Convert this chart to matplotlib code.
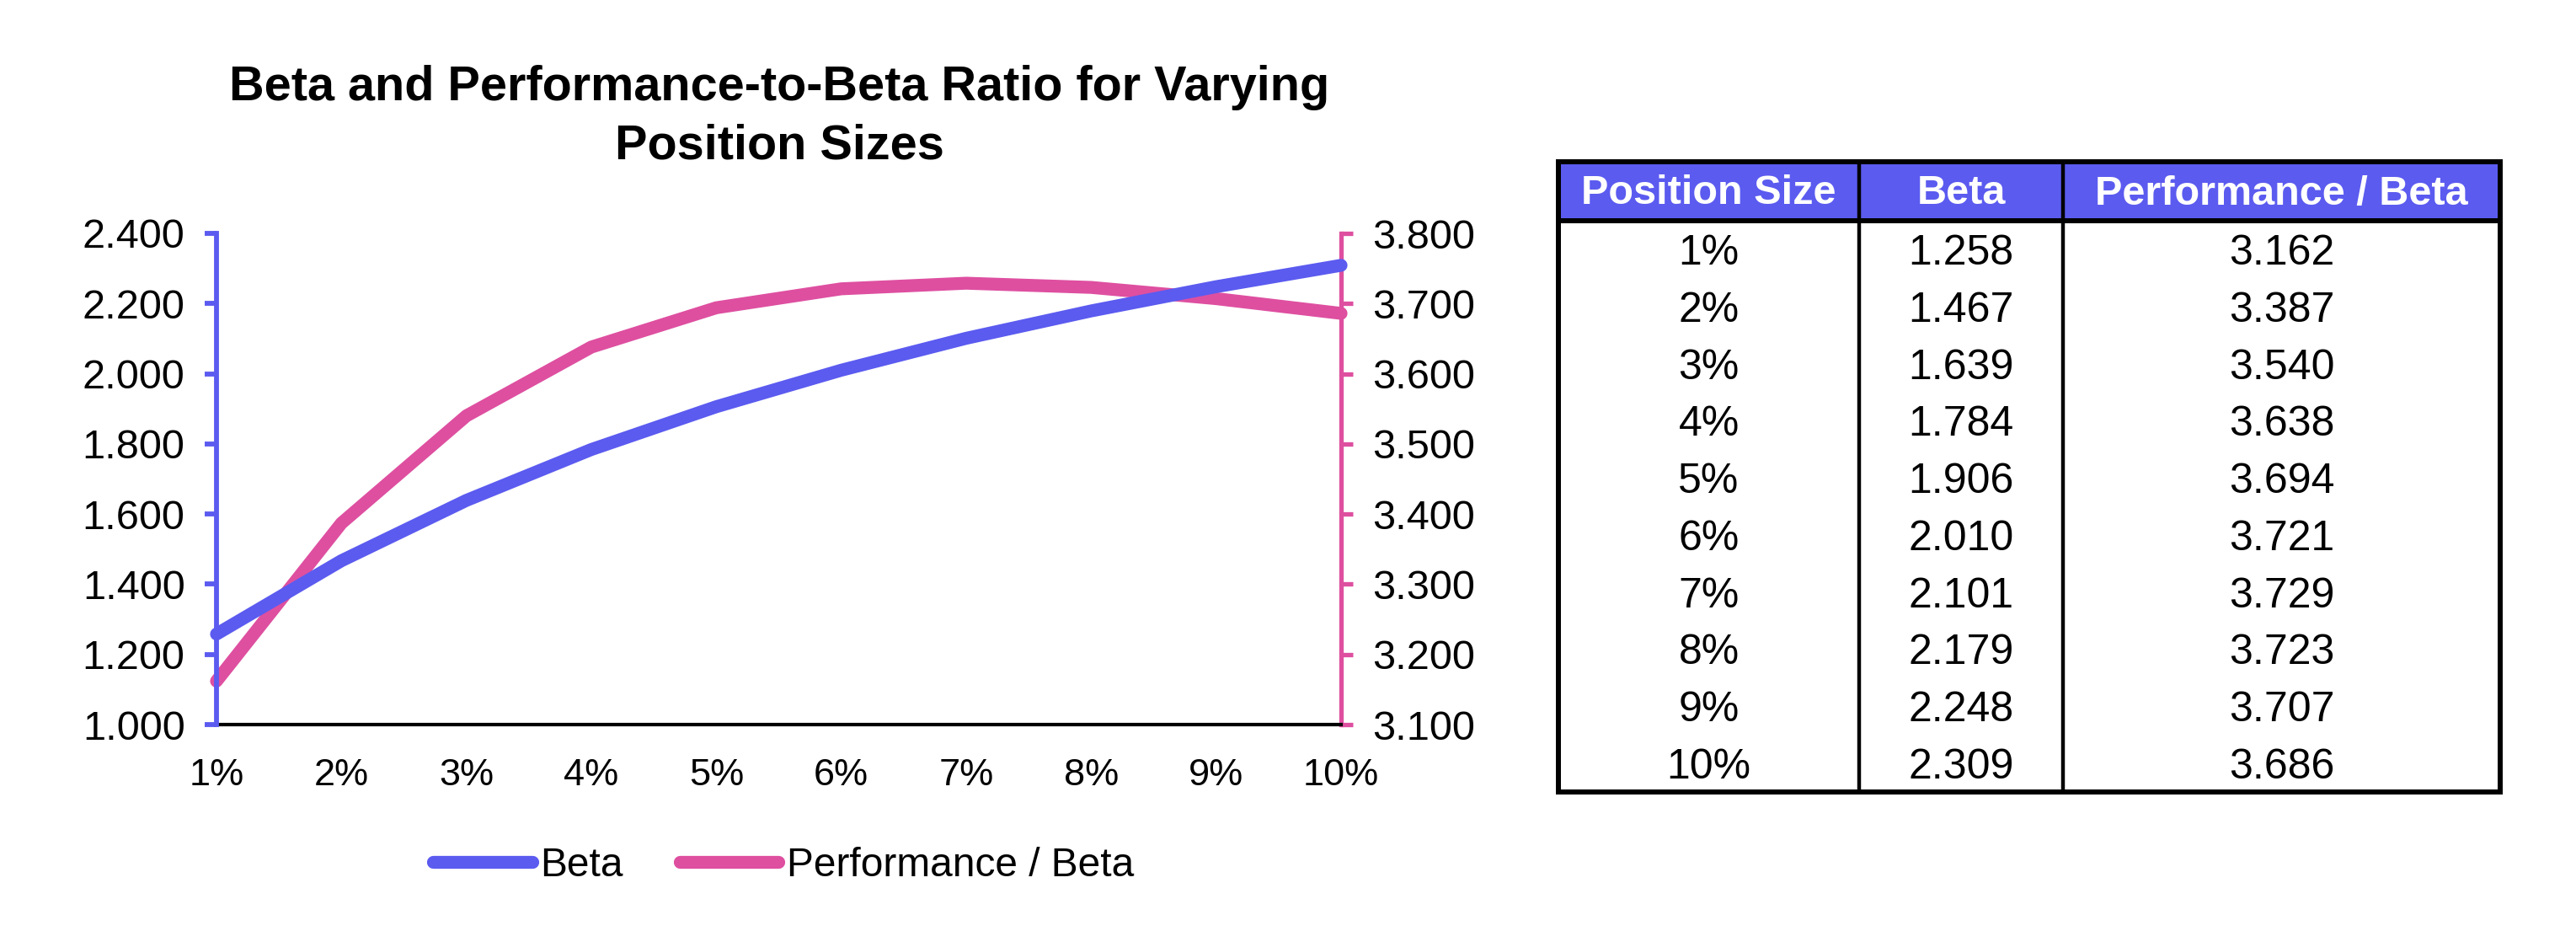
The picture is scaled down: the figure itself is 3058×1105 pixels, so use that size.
"""Beta and performance-to-beta ratio across position sizes, with value table."""

import matplotlib
matplotlib.use("Agg")
import matplotlib.pyplot as plt
from matplotlib.patches import Rectangle

plt.rcParams["font.family"] = ["Liberation Sans", "DejaVu Sans"]

position_sizes = ["1%", "2%", "3%", "4%", "5%", "6%", "7%", "8%", "9%", "10%"]
beta = [1.258, 1.467, 1.639, 1.784, 1.906, 2.010, 2.101, 2.179, 2.248, 2.309]
perf_to_beta = [3.162, 3.387, 3.540, 3.638, 3.694, 3.721, 3.729, 3.723, 3.707, 3.686]

left_ticks = [1.0, 1.2, 1.4, 1.6, 1.8, 2.0, 2.2, 2.4]
right_ticks = [3.1, 3.2, 3.3, 3.4, 3.5, 3.6, 3.7, 3.8]
table_header = ["Position Size", "Beta", "Performance / Beta"]

BLUE = "#5B5BF0"
PINK = "#DE4FA0"
W, H = 3058, 1105

fig = plt.figure(figsize=(W / 100, H / 100), dpi=100)

# main chart
ax = fig.add_axes([257 / W, 1 - 860 / H, (1592 - 257) / W, (860 - 277) / H])
ax2 = ax.twinx()
x = list(range(len(position_sizes)))

l1, = ax.plot(x, beta, color=BLUE, lw=11, solid_capstyle="round",
              solid_joinstyle="round", clip_on=False, zorder=3, label="Beta")
l2, = ax2.plot(x, perf_to_beta, color=PINK, lw=11, solid_capstyle="round",
               solid_joinstyle="round", clip_on=False, zorder=3,
               label="Performance / Beta")

ax.set_xlim(0, len(x) - 1)
ax.set_ylim(1.0, 2.4)
ax2.set_ylim(3.1, 3.8)
ax.set_xticks(x)
ax.set_xticklabels(position_sizes)
ax.set_yticks(left_ticks)
ax.set_yticklabels([f"{v:.3f}" for v in left_ticks])
ax2.set_yticks(right_ticks)
ax2.set_yticklabels([f"{v:.3f}" for v in right_ticks])

for a in (ax, ax2):
    a.spines["top"].set_visible(False)
ax.spines["right"].set_visible(False)
ax2.spines["left"].set_visible(False)
ax2.spines["bottom"].set_visible(False)
ax.spines["left"].set_color(BLUE)
ax.spines["left"].set_linewidth(4.2)
ax2.spines["right"].set_color(PINK)
ax2.spines["right"].set_linewidth(3.8)
ax.spines["bottom"].set_color("black")
ax.spines["bottom"].set_linewidth(3.0)
ax.spines["bottom"].set_zorder(1)

ax.tick_params(axis="y", direction="out", length=10, width=4.2, color=BLUE,
               labelsize=35, pad=17)
ax2.tick_params(axis="y", direction="out", length=10, width=3.8, color=PINK,
                labelsize=35, pad=17)
ax.tick_params(axis="x", length=0, labelsize=32.5, pad=29)
ax.set_zorder(ax2.get_zorder() + 1)
ax.patch.set_visible(False)

fig.text(925 / W, 1 - 139 / H,
         "Beta and Performance-to-Beta Ratio for Varying\nPosition Sizes",
         ha="center", va="center", fontsize=41.5, fontweight="bold",
         linespacing=1.36)

fig.legend(handles=[l1, l2], loc="center", bbox_to_anchor=(930 / W, 1 - 1027 / H),
           ncol=2, frameon=False, fontsize=34.5, handlelength=2.45,
           handletextpad=0.2, columnspacing=1.4)

# value table
tx0, tx1, ty0, ty1 = 1850, 2968, 192, 940
tab = fig.add_axes([tx0 / W, 1 - ty1 / H, (tx1 - tx0) / W, (ty1 - ty0) / H])
tab.set_xlim(0, tx1 - tx0)
tab.set_ylim(ty1 - ty0, 0)
tab.axis("off")

col_edges = [0, 2207 - tx0, 2449 - tx0, tx1 - tx0]
header_h = 70
row_h = (ty1 - ty0 - header_h) / len(position_sizes)
narrow = ["Liberation Sans Narrow", "Liberation Sans", "DejaVu Sans"]

tab.add_patch(Rectangle((0, 0), tx1 - tx0, header_h, facecolor="#5B5BF0",
                        edgecolor="none", zorder=1))
for i, name in enumerate(table_header):
    cx = (col_edges[i] + col_edges[i + 1]) / 2
    tab.text(cx, header_h / 2 + 3, name, ha="center", va="center", color="white",
             fontsize=35, fontweight="bold", family=narrow, zorder=3)

columns = [position_sizes, [f"{v:.3f}" for v in beta],
           [f"{v:.3f}" for v in perf_to_beta]]
for i, col in enumerate(columns):
    cx = (col_edges[i] + col_edges[i + 1]) / 2
    for r, val in enumerate(col):
        cy = header_h + row_h * (r + 0.5) + 5
        tab.text(cx, cy, val, ha="center", va="center", fontsize=36,
                 family=narrow, zorder=3)

for ex in col_edges[1:-1]:
    tab.plot([ex, ex], [0, ty1 - ty0], color="black", lw=3.2, zorder=2,
             solid_capstyle="butt")
tab.plot([0, tx1 - tx0], [header_h, header_h], color="black", lw=4.3, zorder=2)
tab.add_patch(Rectangle((0, 0), tx1 - tx0, ty1 - ty0, facecolor="none",
                        edgecolor="black", lw=4.3, zorder=4, clip_on=False))

fig.savefig("out.png", dpi=100)
